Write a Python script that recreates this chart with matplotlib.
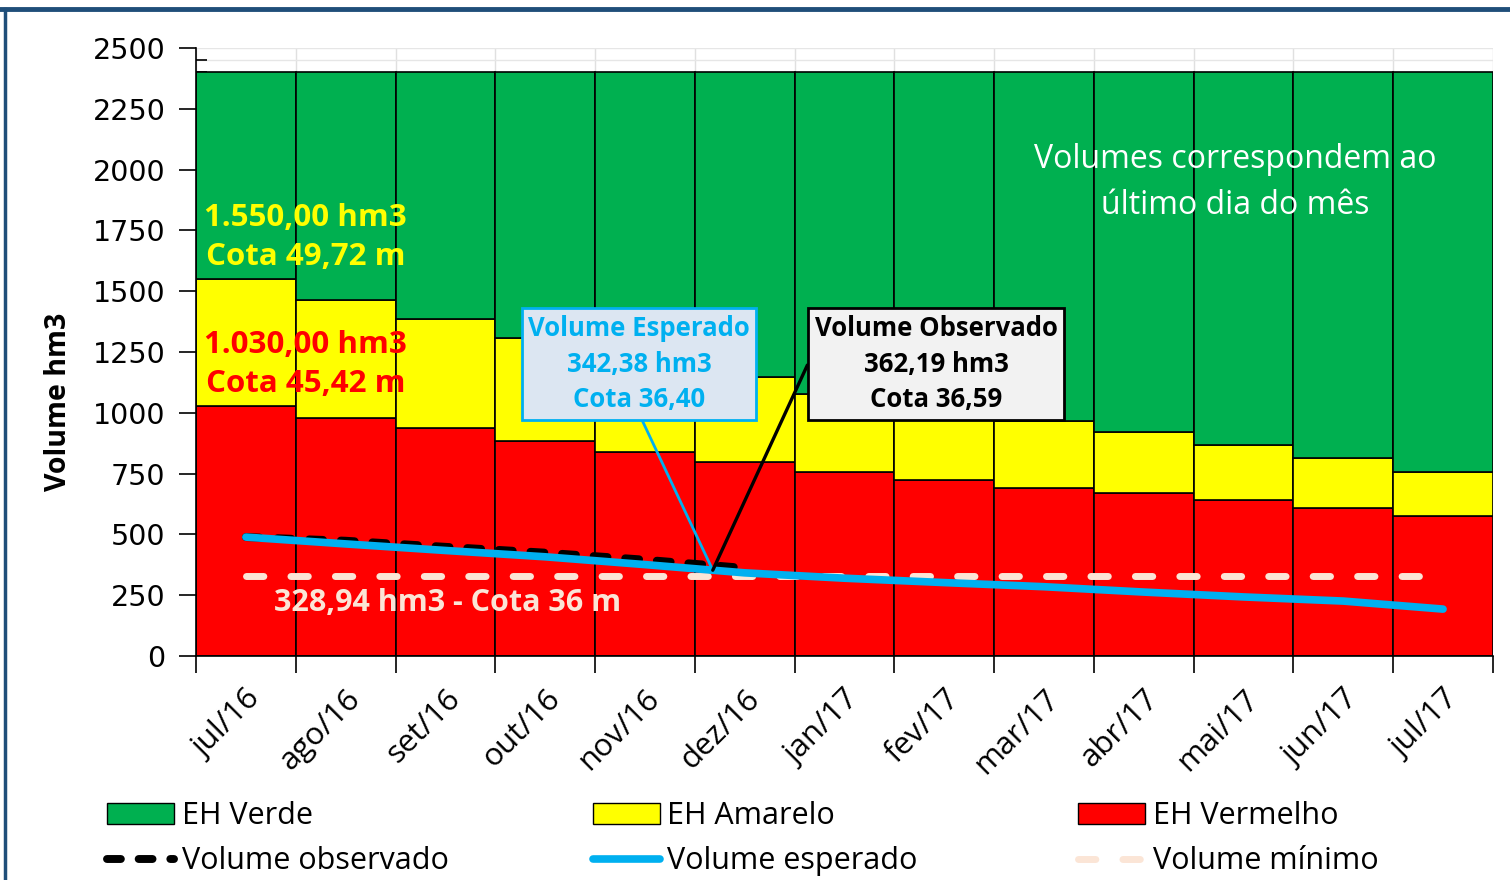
import numpy as np
import matplotlib
matplotlib.use("Agg")
import matplotlib.pyplot as plt
from matplotlib.patches import Patch
from matplotlib.lines import Line2D

meses = ["jul/16", "ago/16", "set/16", "out/16", "nov/16", "dez/16", "jan/17",
         "fev/17", "mar/17", "abr/17", "mai/17", "jun/17", "jul/17"]
eh_vermelho = [1030, 980, 938, 885, 840, 798, 758, 724, 692, 670, 641, 609, 576]
eh_amarelo_topo = [1550, 1464, 1386, 1308, 1230, 1147, 1077, 1020, 966, 921, 868, 814, 757]
eh_verde_topo = [2400] * 13
vol_observado = [489, 474, 449, 425, 396, 362]
vol_esperado = [489, 461, 434, 408, 376, 342, 320, 302, 285, 263, 243, 226, 193]
vol_minimo = [328.94] * 13

plt.rcParams["font.family"] = ["Open Sans", "DejaVu Sans"]

verde = "#00B050"
amarelo = "#FFFF00"
vermelho = "#FF0000"
azul = "#00B0F0"
pessego = "#FBE5D6"

x = np.arange(len(meses))
amarelo_h = np.array(eh_amarelo_topo) - np.array(eh_vermelho)
verde_h = np.array(eh_verde_topo) - np.array(eh_amarelo_topo)

fig = plt.figure(figsize=(15.1, 8.8), dpi=100)
ax = fig.add_axes([0.1298, 0.2545, 0.8589, 0.691])

ax.bar(x, eh_vermelho, width=1, color=vermelho, edgecolor="black", linewidth=1.2, zorder=2)
ax.bar(x, amarelo_h, bottom=eh_vermelho, width=1, color=amarelo, edgecolor="black", linewidth=1.2, zorder=2)
ax.bar(x, verde_h, bottom=eh_amarelo_topo, width=1, color=verde, edgecolor="black", linewidth=1.2, zorder=2)

ax.plot(x, vol_minimo, color=pessego, lw=5, dashes=(2.5, 3.9), dash_capstyle="round", zorder=3)
ax.plot(x[:len(vol_observado)], vol_observado, color="black", lw=5.7, dashes=(1.75, 2.25),
        dash_capstyle="round", zorder=4)
ax.plot(x, vol_esperado, color=azul, lw=5.5, solid_capstyle="round", zorder=5)

ax.set_xlim(-0.5, 12.5)
ax.set_ylim(0, 2500)
ax.set_yticks(np.arange(0, 2501, 250))
ax.set_yticks(np.arange(0, 2501, 50), minor=True)
ax.set_xticks(np.arange(-0.5, 13, 1))
ax.set_xticklabels([])
ax.set_xticks(x, minor=True)
ax.set_xticklabels(meses, minor=True, rotation=45, ha="right", rotation_mode="anchor",
                   fontsize=22.5)
ax.tick_params(axis="x", which="major", direction="out", length=12, width=1.2)
ax.tick_params(axis="x", which="minor", length=0, pad=20)
ax.tick_params(axis="y", which="major", direction="out", length=12, width=1.2, labelsize=20.5, pad=10)
ax.tick_params(axis="y", which="minor", direction="in", length=8, width=1.2)
for lbl in ax.get_yticklabels():
    lbl.set_family("DejaVu Sans")

ax.grid(True, which="major", axis="x", color="#E0E0E0", lw=1, zorder=0)
ax.grid(True, which="both", axis="y", color="#E6E6E6", lw=1, zorder=0)
ax.set_axisbelow(True)
for s in ["top", "right"]:
    ax.spines[s].set_visible(False)
ax.spines["left"].set_linewidth(1.2)
ax.spines["bottom"].set_linewidth(1.2)

ax.set_ylabel("Volume hm3", fontsize=20.5, fontweight="bold")
ax.yaxis.set_label_coords(-0.095, 0.418)

ax.text(0.6, 1720, "1.550,00 hm3\nCota 49,72 m", color=amarelo, fontsize=22.5, fontweight="bold",
        ha="center", va="center", linespacing=1.4, zorder=6)
ax.text(0.6, 1198, "1.030,00 hm3\nCota 45,42 m", color=vermelho, fontsize=22.5, fontweight="bold",
        ha="center", va="center", linespacing=1.4, zorder=6)
ax.text(2.02, 218, "328,94 hm3 - Cota 36 m", color=pessego, fontsize=22, fontweight="bold",
        ha="center", va="center", zorder=6)
ax.text(9.92, 1946, "Volumes correspondem ao\núltimo dia do mês", color="white", fontsize=23,
        ha="center", va="center", linespacing=1.5, zorder=6)

# ponto onde as duas chamadas se encontram
x_ponto = 4.68
y_ponto = np.interp(x_ponto, x, vol_esperado)

ax.annotate("Volume Esperado\n342,38 hm3\nCota 36,40", xy=(x_ponto, y_ponto), xytext=(3.94, 1200),
            color=azul, fontsize=18.5, fontweight="bold", ha="center", va="center", linespacing=1.42,
            bbox=dict(boxstyle="square,pad=0.25", fc="#DCE6F2", ec=azul, lw=2),
            arrowprops=dict(arrowstyle="-", color=azul, lw=2, shrinkA=0, shrinkB=0,
                            relpos=(0.5, 0)), zorder=7)
ax.annotate("Volume Observado\n362,19 hm3\nCota 36,59", xy=(x_ponto, y_ponto), xytext=(6.92, 1200),
            color="black", fontsize=18.5, fontweight="bold", ha="center", va="center", linespacing=1.42,
            bbox=dict(boxstyle="square,pad=0.25", fc="#F2F2F2", ec="black", lw=2),
            arrowprops=dict(arrowstyle="-", color="black", lw=2.4, shrinkA=0, shrinkB=0,
                            relpos=(0, 0.5),
                            connectionstyle="arc,angleA=180,armA=7,angleB=0,armB=0,rad=0"),
            zorder=7)

colunas = [
    [Patch(facecolor=verde, edgecolor="black", label="EH Verde"),
     Line2D([], [], color="black", lw=5.7, dashes=(1.75, 2.25), dash_capstyle="round",
            label="Volume observado")],
    [Patch(facecolor=amarelo, edgecolor="black", label="EH Amarelo"),
     Line2D([], [], color=azul, lw=5.5, solid_capstyle="round", label="Volume esperado")],
    [Patch(facecolor=vermelho, edgecolor="black", label="EH Vermelho"),
     Line2D([], [], color=pessego, lw=5, dashes=(2.5, 3.9), dash_capstyle="round",
            label="Volume mínimo")],
]
for i, hs in enumerate(colunas):
    fig.legend(handles=hs, loc="lower left", bbox_to_anchor=(0.0709 + i * 0.3215, 0.004),
               frameon=False, fontsize=22, handlelength=2.2, handleheight=0.65, handletextpad=0.25,
               labelspacing=0.5, borderpad=0, borderaxespad=0)

# moldura azul
fig.add_artist(Line2D([0, 1], [0.99, 0.99], color="#1F4E79", lw=3.5, transform=fig.transFigure))
fig.add_artist(Line2D([0.003, 0.003], [0, 0.99], color="#1F4E79", lw=2.5, transform=fig.transFigure))

fig.savefig("out.png", dpi=100)
